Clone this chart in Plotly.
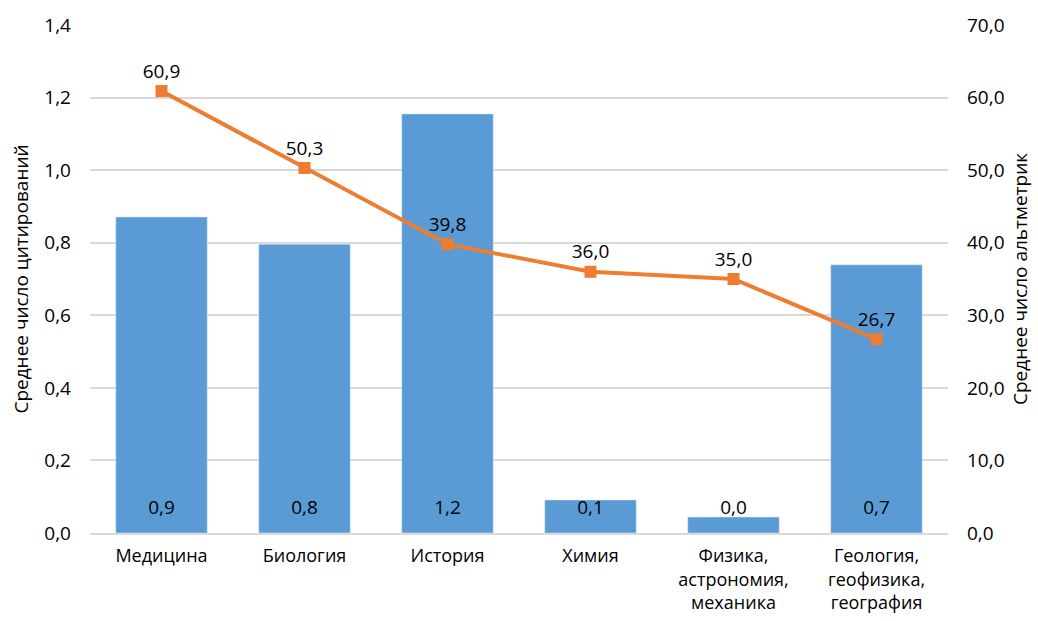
import plotly.graph_objects as go

categories = ["Медицина", "Биология", "История", "Химия",
              "Физика,<br>астрономия,<br>механика",
              "Геология,<br>геофизика,<br>география"]
citations = [0.871, 0.796, 1.155, 0.091, 0.044, 0.739]
altmetrics = [60.9, 50.3, 39.8, 36.0, 35.0, 26.7]
left_ticks = [0, 0.2, 0.4, 0.6, 0.8, 1.0, 1.2, 1.4]
right_ticks = [0, 10, 20, 30, 40, 50, 60, 70]

BAR = "#5B9BD5"
LINE = "#ED7D31"
GRID = "#D9D9D9"
FONT = "Open Sans"
FS = 19

fig = go.Figure()

fig.add_trace(go.Bar(
    x=categories, y=citations, marker_color=BAR, width=0.64,
    hoverinfo="y", showlegend=False,
))

# value labels of the bars, placed near the bar base
fig.add_trace(go.Scatter(
    x=categories, y=[0.065] * len(citations), mode="text",
    text=[f"{v:.1f}".replace(".", ",") for v in citations],
    textposition="middle center",
    textfont=dict(size=FS, color="#000000", family=FONT),
    hoverinfo="skip", showlegend=False,
))

fig.add_trace(go.Scatter(
    x=categories, y=altmetrics, yaxis="y2", mode="lines+markers+text",
    line=dict(color=LINE, width=4),
    marker=dict(symbol="square", size=12, color=LINE),
    text=[f"{v:.1f}".replace(".", ",") for v in altmetrics],
    textposition="top center",
    textfont=dict(size=FS, color="#000000", family=FONT),
    showlegend=False,
))

fig.update_layout(
    width=1038, height=621,
    margin=dict(l=90, r=90, t=25, b=88),
    paper_bgcolor="white", plot_bgcolor="white",
    font=dict(family=FONT, size=FS, color="#000000"),
    separators=", ",
    bargap=0.36,
    xaxis=dict(
        showgrid=False, showline=True, linecolor=GRID, linewidth=1.5,
        ticks="", tickfont=dict(size=18), ticklabelstandoff=6,
        automargin=False,
    ),
    yaxis=dict(
        range=[0, 1.4], tickvals=left_ticks, tickformat=".1f",
        showgrid=True, gridcolor=GRID, gridwidth=1.5,
        zeroline=False, showline=False, ticks="",
        ticklabelstandoff=18, automargin=False,
        title=dict(text="Среднее число цитирований", font=dict(size=FS), standoff=10),
    ),
    yaxis2=dict(
        range=[0, 70], tickvals=right_ticks, tickformat=".1f",
        overlaying="y", side="right", showgrid=False,
        zeroline=False, showline=False, ticks="",
        ticklabelstandoff=18, automargin=False,
        title=dict(text="Среднее число альтметрик", font=dict(size=FS), standoff=10),
    ),
)

fig.write_html("out.html")
